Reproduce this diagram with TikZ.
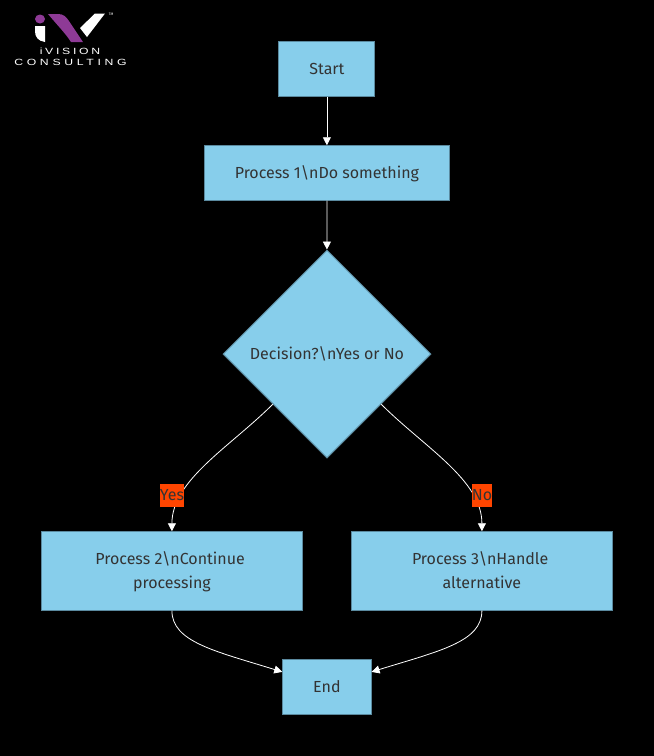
\documentclass[tikz,border=0pt]{standalone}
\usepackage{fontspec}
\setmainfont{Fira Sans}
\newfontfamily\logofont[LetterSpace=22]{Liberation Sans}
\newfontfamily\logofontb[LetterSpace=30]{Liberation Sans}
\usetikzlibrary{shapes.geometric,arrows.meta,calc}
\definecolor{boxfill}{HTML}{87CEEB}
\definecolor{boxline}{HTML}{5B8A9F}
\definecolor{txt}{HTML}{333333}
\definecolor{lab}{HTML}{FF4500}
\definecolor{logopurple}{HTML}{8E3A96}
\newcommand\tstrut{\rule[-6.2pt]{0pt}{24pt}}
\tikzset{
  x=1pt,y=-1pt,
  flowbox/.style={rectangle,draw=boxline,fill=boxfill,line width=1pt,text=txt,font=\fontsize{16}{24}\selectfont,align=center,inner sep=0pt},
  flowdia/.style={diamond,aspect=1,draw=boxline,fill=boxfill,line width=1pt,text=txt,font=\fontsize{16}{24}\selectfont,inner sep=0pt,minimum width=208pt,minimum height=208pt},
  flowlab/.style={rectangle,fill=lab,text=txt,font=\fontsize{16}{20}\selectfont,inner sep=0pt,minimum height=23pt},
  flowedge/.style={draw=white,line width=0.8pt,-{Triangle[length=8pt,width=8pt,fill=white]}},
  logotext/.style={text=white,inner sep=0pt,xscale=1.36,font=\fontsize{9}{9}\selectfont},
}
\begin{document}
\begin{tikzpicture}
\useasboundingbox[fill=black] (0,0) rectangle (654,756);
% nodes
\node[flowbox,minimum width=96pt,minimum height=54.3pt] (s) at (326.9,68.9) {\tstrut Start};
\node[flowbox,minimum width=244.3pt,minimum height=54.3pt] (p1) at (326.9,172.9) {\tstrut Process 1\textbackslash nDo something};
\node[flowdia] (d) at (327,354) {\tstrut Decision?\textbackslash nYes or No};
\node[flowbox,minimum width=260.3pt,minimum height=78.3pt] (p2) at (171.9,570.9) {\tstrut Process 2\textbackslash nContinue\hspace*{3.5pt}\\\tstrut processing};
\node[flowbox,minimum width=260.3pt,minimum height=78.3pt] (p3) at (481.9,570.9) {\tstrut Process 3\textbackslash nHandle\hspace*{3.5pt}\\\tstrut alternative};
\node[flowbox,minimum width=88.3pt,minimum height=54.3pt] (e) at (326.9,686.9) {\tstrut End};
% edges
\draw[flowedge] (s) -- (p1);
\draw[flowedge] (p1) -- (d);
\draw[flowedge] ($(d.south west)+(-2,-2)$) .. controls (230,447) and (172,480) .. (p2.north);
\draw[flowedge] ($(d.south east)+(2,-2)$) .. controls (424,447) and (482,480) .. (p3.north);
\draw[flowedge] (p2.south) .. controls (172,642) and (215,651) .. ([yshift=15pt]e.west);
\draw[flowedge] (p3.south) .. controls (482,642) and (439,651) .. ([yshift=15pt]e.east);
\node[flowlab,minimum width=24pt] (ly) at (172,495.5) {Yes};
\node[flowlab,minimum width=20pt] (ln) at (482,495.5) {No};
% logo
\fill[logopurple] (40,19) ellipse (5 and 4.5);
\fill[white] (35,26) -- (45,26) -- (45,42) .. controls (38,41) and (35,37) .. (35,31) -- cycle;
\fill[logopurple] (48,14) -- (58,14) .. controls (64,14) and (66,17) .. (69,21) -- (83,42) -- (71,42) .. controls (66,34) and (58,26) .. cycle;
\fill[white] (95,13.5) -- (105,13.5) -- (87,37) -- (80,28) -- cycle;
\node[text=white,inner sep=0pt,font=\fontsize{3.5}{4}\selectfont] (tm) at (111,14.5) {TM};
\node[logotext] (l1) at (70,51.5) {\logofont iVISION};
\node[logotext] (l2) at (70.5,62) {\logofontb CONSULTING};
\end{tikzpicture}
\end{document}
